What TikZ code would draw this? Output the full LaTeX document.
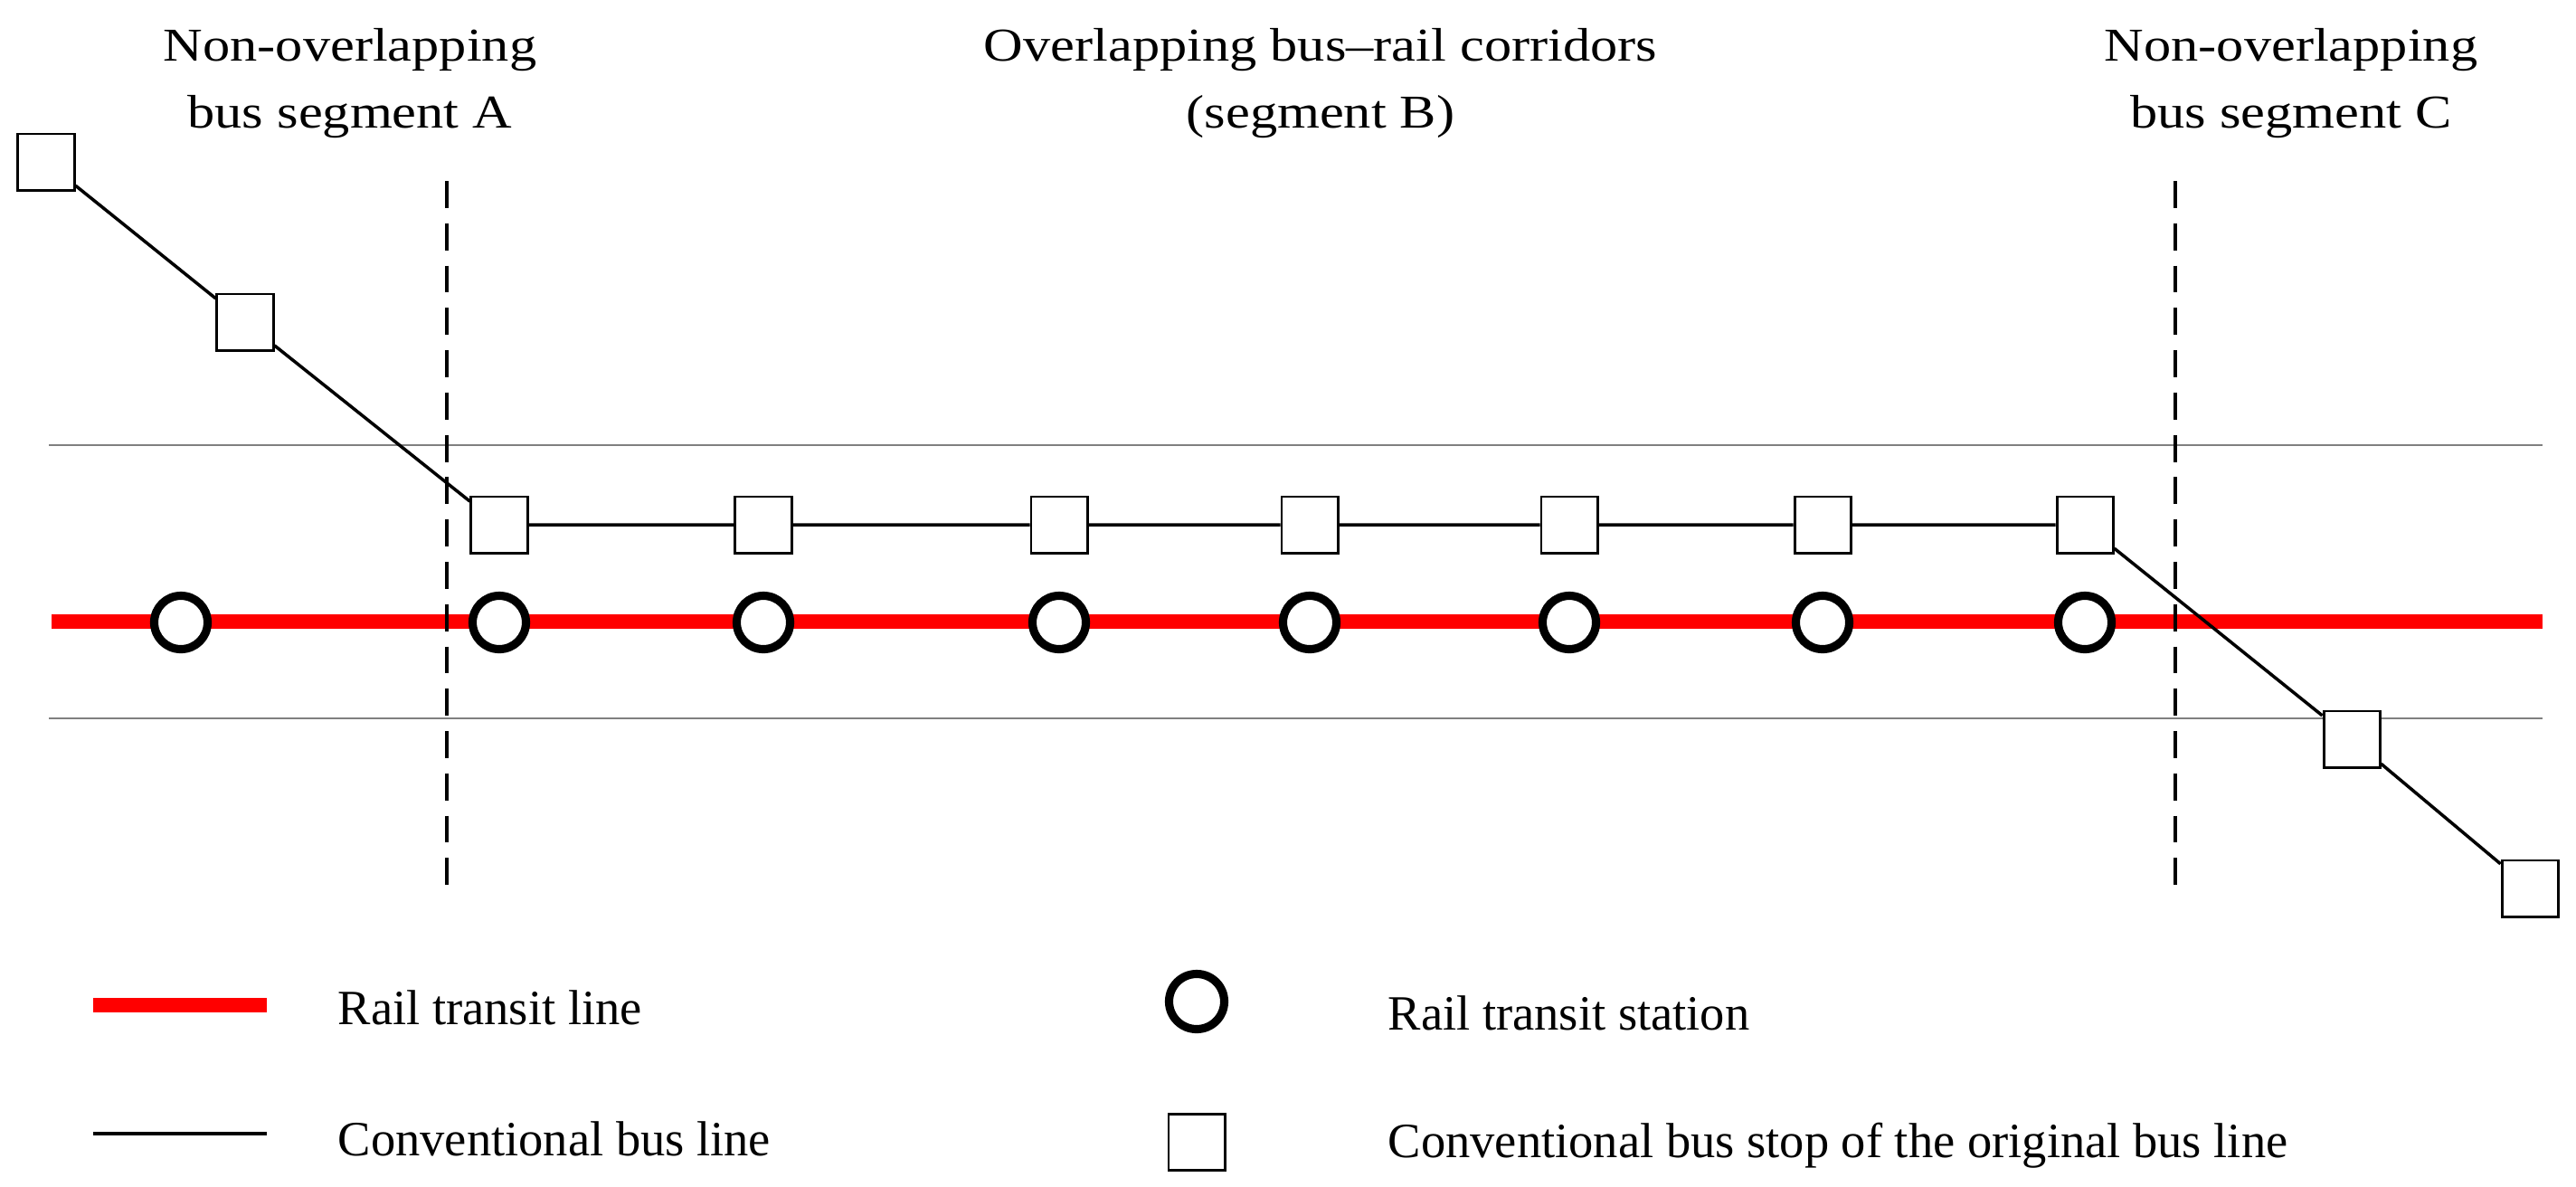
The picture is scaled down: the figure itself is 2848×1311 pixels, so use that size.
\documentclass[tikz,border=0pt]{standalone}
\usepackage{fontspec}
\setmainfont{Liberation Serif}
\newfontfamily\titlefont{Liberation Serif}[Ligatures=TeX,FakeStretch=1.16]
\begin{document}
\begin{tikzpicture}[x=0.01cm,y=-0.01cm,
  stop/.style={draw,line width=0.85pt,fill=white,minimum size=0.62cm,inner sep=0pt},
  station/.style={circle,draw,line width=2.6pt,fill=white,minimum size=0.59cm,inner sep=0pt},
  rail/.style={red,line width=4.8pt},
  bus/.style={line width=1pt},
  border/.style={gray,line width=0.75pt},
  title/.style={align=center,font=\titlefont\fontsize{14.8}{21}\selectfont},
  legend/.style={anchor=base west,inner sep=0pt,font=\fontsize{15.5}{19}\selectfont}]
\useasboundingbox (0,0) rectangle (2848,1311);
\draw[border] (54,492) -- (2811,492);
\draw[border] (54,794) -- (2811,794);
\draw[rail] (57,687) -- (2811,687);
\foreach \x in {494,2405}
    \draw[line width=0.9pt,dash pattern=on 8.5pt off 4.8pt] (\x,200) -- (\x,995);
\foreach \x [count=\i from 0] in {200,552,844,1171,1448,1735,2015,2305}
    \node[station] (s\i) at (\x,688) {};
\foreach \x [count=\i] in {552,844,1171,1448,1735,2015,2305}
    \node[stop] (b\i) at (\x,580) {};
\node[stop] (a1) at (51,179) {};
\node[stop] (a2) at (271,356) {};
\node[stop] (c1) at (2600,817) {};
\node[stop] (c2) at (2797,982) {};
\draw[bus] (a1) -- (a2) -- (b1) -- (b2) -- (b3) -- (b4) -- (b5) -- (b6) -- (b7) -- (c1) -- (c2);
\node[title] (ta) at (387,92) {Non-overlapping\\bus segment A};
\node[title] (tb) at (1460,92) {Overlapping bus--rail corridors\\(segment B)};
\node[title] (tc) at (2533,92) {Non-overlapping\\bus segment C};
\draw[rail] (103,1111) -- (295,1111);
\node[legend] (l1) at (373,1132) {Rail transit line};
\draw[line width=1.4pt] (103,1253) -- (295,1253);
\node[legend] (l2) at (373,1277) {Conventional bus line};
\node[station,minimum size=0.61cm] (ls) at (1323,1107) {};
\node[legend] (l3) at (1534,1138) {Rail transit station};
\node[stop] (lb) at (1323,1262) {};
\node[legend] (l4) at (1534,1279) {Conventional bus stop of the original bus line};
\end{tikzpicture}
\end{document}
